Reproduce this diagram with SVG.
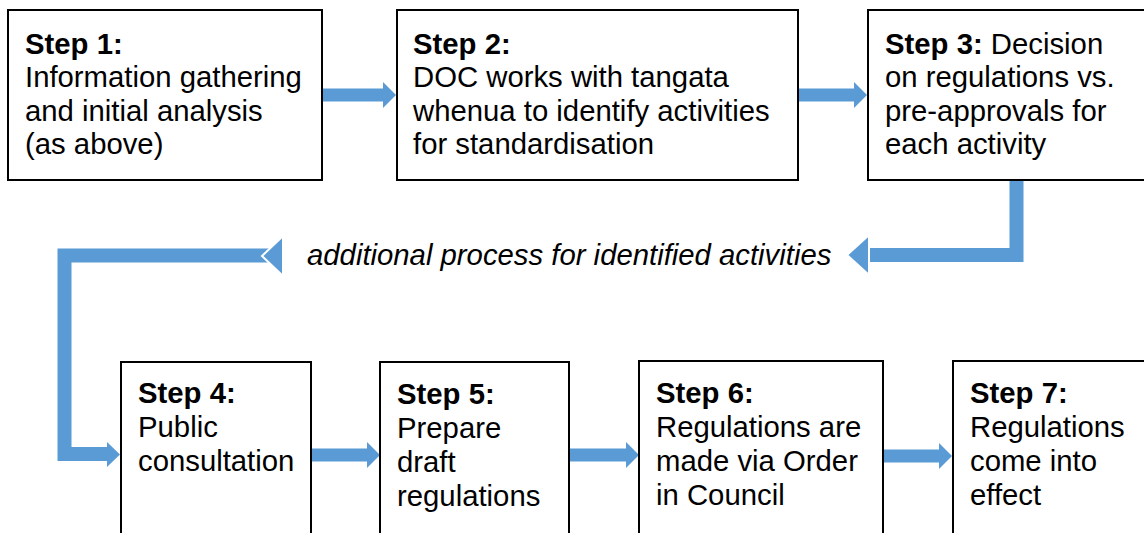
<svg xmlns="http://www.w3.org/2000/svg" width="1144" height="533" viewBox="0 0 1144 533">
  <style>
    .box { fill: #ffffff; stroke: #000000; stroke-width: 2; }
    .txt { font-family: "Liberation Sans", Arial, sans-serif; font-size: 29.3px; fill: #000000; }
    .b { font-weight: bold; }
    .note { font-family: "Liberation Sans", Arial, sans-serif; font-size: 29.3px; font-style: italic; fill: #000000; }
    .shaft { fill: none; stroke: #5B9BD5; stroke-width: 14; stroke-linejoin: miter; }
    .shaft13 { fill: none; stroke: #5B9BD5; stroke-width: 13; }
    .head { fill: #5B9BD5; }
    .headw { fill: #5B9BD5; stroke: #ffffff; stroke-width: 2; stroke-linejoin: miter; }
  </style>

  <!-- connectors -->
  <g id="connectors">
    <!-- step 1 to step 2 -->
    <line class="shaft13" x1="322" y1="95" x2="385" y2="95"/>
    <polygon class="head" points="383,82 396,95 383,108"/>
    <!-- step 2 to step 3 -->
    <line class="shaft13" x1="798" y1="95" x2="856" y2="95"/>
    <polygon class="head" points="854,82 867,95 854,108"/>
    <!-- step 3 down and back left -->
    <path class="shaft" d="M1016.5 180 V255 H858"/>
    <polygon class="headw" points="847,255 869,235 869,275"/>
    <!-- left loop down to step 4 -->
    <path class="shaft" d="M276 255.5 H64.5 V454 H109"/>
    <polygon class="headw" points="262,256 283,236 283,276"/>
    <polygon class="head" points="107,442 120,454.5 107,467"/>
    <!-- step 4 to step 5 -->
    <line class="shaft13" x1="311" y1="455" x2="369" y2="455"/>
    <polygon class="head" points="367,442 380,455 367,468"/>
    <!-- step 5 to step 6 -->
    <line class="shaft13" x1="570" y1="455" x2="628" y2="455"/>
    <polygon class="head" points="626,442 639,455 626,468"/>
    <!-- step 6 to step 7 -->
    <line class="shaft13" x1="883" y1="456" x2="941" y2="456"/>
    <polygon class="head" points="939,443 952,456 939,469"/>
  </g>

  <text class="note" x="307" y="265">additional process for identified activities</text>

  <g id="step1">
    <rect class="box" x="8" y="10" width="314" height="170"/>
    <text class="txt" x="25" y="53.5"><tspan class="b">Step 1:</tspan></text>
    <text class="txt" x="25" y="87">Information gathering</text>
    <text class="txt" x="25" y="120.5">and initial analysis</text>
    <text class="txt" x="25" y="154">(as above)</text>
  </g>

  <g id="step2">
    <rect class="box" x="397" y="10" width="401" height="170"/>
    <text class="txt" x="413" y="53.5"><tspan class="b">Step 2:</tspan></text>
    <text class="txt" x="413" y="87">DOC works with tangata</text>
    <text class="txt" x="413" y="120.5">whenua to identify activities</text>
    <text class="txt" x="413" y="154">for standardisation</text>
  </g>

  <g id="step3">
    <rect class="box" x="868" y="10" width="290" height="170"/>
    <text class="txt" x="885" y="53.5"><tspan class="b">Step 3:</tspan> Decision</text>
    <text class="txt" x="885" y="87">on regulations vs.</text>
    <text class="txt" x="885" y="120.5">pre-approvals for</text>
    <text class="txt" x="885" y="154">each activity</text>
  </g>

  <g id="step4">
    <rect class="box" x="121" y="362" width="190" height="200"/>
    <text class="txt" x="138" y="403"><tspan class="b">Step 4:</tspan></text>
    <text class="txt" x="138" y="437">Public</text>
    <text class="txt" x="138" y="471">consultation</text>
  </g>

  <g id="step5">
    <rect class="box" x="380" y="362" width="189" height="200"/>
    <text class="txt" x="397" y="404"><tspan class="b">Step 5:</tspan></text>
    <text class="txt" x="397" y="438">Prepare</text>
    <text class="txt" x="397" y="472">draft</text>
    <text class="txt" x="397" y="506">regulations</text>
  </g>

  <g id="step6">
    <rect class="box" x="639" y="361" width="244" height="200"/>
    <text class="txt" x="656" y="403"><tspan class="b">Step 6:</tspan></text>
    <text class="txt" x="656" y="437">Regulations are</text>
    <text class="txt" x="656" y="471">made via Order</text>
    <text class="txt" x="656" y="505">in Council</text>
  </g>

  <g id="step7">
    <rect class="box" x="953" y="361" width="200" height="200"/>
    <text class="txt" x="970" y="403"><tspan class="b">Step 7:</tspan></text>
    <text class="txt" x="970" y="437">Regulations</text>
    <text class="txt" x="970" y="471">come into</text>
    <text class="txt" x="970" y="505">effect</text>
  </g>
</svg>
